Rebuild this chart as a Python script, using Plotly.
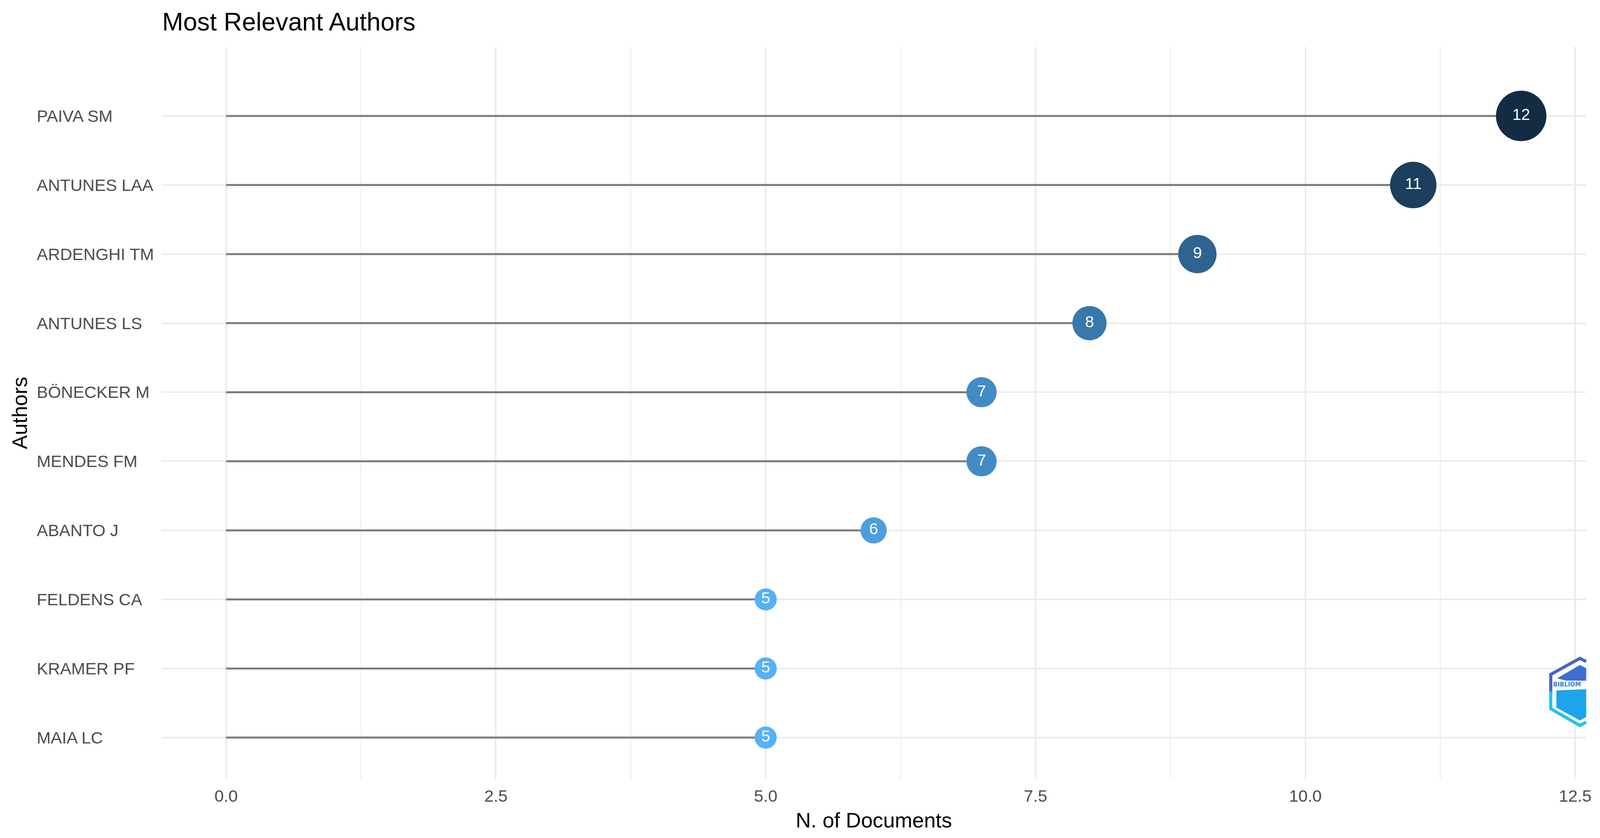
import plotly.graph_objects as go

authors = ["PAIVA SM", "ANTUNES LAA", "ARDENGHI TM", "ANTUNES LS", "BÖNECKER M",
           "MENDES FM", "ABANTO J", "FELDENS CA", "KRAMER PF", "MAIA LC"]
documents = [12, 11, 9, 8, 7, 7, 6, 5, 5, 5]
x_ticks = [0, 2.5, 5, 7.5, 10, 12.5]

# the browser viewport is 4096 px wide, the reference 4291 px: x positions are
# measured on the reference and rescaled horizontally
REF_W = 4291
W, H = 4096, 2146
SX = W / REF_W
FS = SX ** 0.5  # font / marker scale (compromise between both directions)
L = round(433 * SX)
R = W - round(4253 * SX)
T, B = 120, 151
PW, PH = W - L - R, H - T - B
FONT = "Liberation Sans, Arial, Helvetica, sans-serif"


def px_x(px):
    # reference x pixel -> paper coordinate
    return (px * SX - L) / PW


def px_y(py):
    return (H - B - py) / PH


def dot_size(v):
    # diameter scale (px), linear in the count
    return (58 + (v - min(documents)) * 10.6) * FS


def path(points, close=False):
    s = "M " + " L ".join(f"{px_x(a):.5f},{px_y(b):.5f}" for a, b in points)
    return s + (" Z" if close else "")


seg_x, seg_y = [], []
for a, d in zip(authors, documents):
    seg_x += [0, d, None]
    seg_y += [a, a, None]

fig = go.Figure()
fig.add_trace(go.Scatter(
    x=seg_x, y=seg_y, mode="lines",
    line=dict(color="#7a7a7a", width=5),
    hoverinfo="skip", showlegend=False,
))
fig.add_trace(go.Scatter(
    x=documents, y=authors, mode="markers+text",
    text=[str(d) for d in documents],
    textposition="middle center",
    textfont=dict(family=FONT, size=42 * FS, color="white"),
    marker=dict(
        size=[dot_size(d) for d in documents],
        color=documents,
        colorscale=[[0, "#56B1F7"], [1, "#132B43"]],
        cmin=min(documents), cmax=max(documents),
        line=dict(width=0), opacity=1,
    ),
    showlegend=False,
))

annotations = []
for a in authors:
    annotations.append(dict(
        x=px_x(96), xref="paper", y=a, yref="y",
        text=a, showarrow=False, xanchor="left", yanchor="middle",
        font=dict(family=FONT, size=44 * FS, color="#4D4D4D"),
    ))
annotations.append(dict(
    x=px_x(52), xref="paper", y=0.5, yref="paper", text="Authors",
    textangle=-90, showarrow=False, xanchor="center", yanchor="middle",
    font=dict(family=FONT, size=55 * FS, color="black"),
))
annotations.append(dict(
    x=0.5, xref="paper", y=px_y(2100), yref="paper", text="N. of Documents",
    showarrow=False, xanchor="center", yanchor="middle",
    font=dict(family=FONT, size=55 * FS, color="black"),
))
annotations.append(dict(
    x=px_x(4163), xref="paper", y=px_y(1753), yref="paper", text="<b>BIBLIOM</b>",
    showarrow=False, xanchor="left", yanchor="middle",
    font=dict(family="DejaVu Sans, sans-serif", size=15, color="#2f7fd6"),
))

# bibliometrix logo (clipped at the panel edge)
hexagon = [(4254, 1690), (4237, 1682), (4155, 1725), (4155, 1817), (4237, 1862), (4254, 1853)]
shapes = [
    dict(type="path", xref="paper", yref="paper", path=path(hexagon, True),
         fillcolor="white", line=dict(width=0), layer="above"),
    dict(type="path", xref="paper", yref="paper",
         path=path([(4254, 1694), (4237, 1686), (4159, 1727), (4159, 1771)]),
         line=dict(color="#4a63c6", width=8), layer="above"),
    dict(type="path", xref="paper", yref="paper",
         path=path([(4159, 1771), (4159, 1815), (4237, 1858), (4254, 1849)]),
         line=dict(color="#1fc3f2", width=8), layer="above"),
    dict(type="path", xref="paper", yref="paper",
         path=path([(4176, 1737), (4237, 1703), (4254, 1711), (4254, 1743), (4200, 1743)], True),
         fillcolor="#3b6fd0", line=dict(width=0), layer="above"),
    dict(type="path", xref="paper", yref="paper",
         path=path([(4174, 1768), (4254, 1765), (4254, 1836), (4237, 1845), (4174, 1812)], True),
         fillcolor="#1ea4ea", line=dict(width=0), layer="above"),
]

fig.update_layout(
    width=W, height=H,
    margin=dict(l=L, r=R, t=T, b=B, pad=0),
    paper_bgcolor="white", plot_bgcolor="white",
    title=dict(text="Most Relevant Authors", x=435 * SX / W,
               xanchor="left", y=1 - 55.5 / H, yanchor="middle",
               xref="container", yref="container",
               font=dict(family=FONT, size=66 * FS, color="black")),
    annotations=annotations,
    shapes=shapes,
    showlegend=False,
)
fig.update_xaxes(
    range=[-0.6, 12.6], tickvals=x_ticks, tickformat=".1f",
    showgrid=True, gridcolor="#EBEBEB", gridwidth=3.5,
    minor=dict(showgrid=True, dtick=1.25, gridcolor="#EBEBEB", gridwidth=1.8),
    zeroline=False, showline=False, ticks="", ticklabelstandoff=14,
    tickfont=dict(family=FONT, size=44 * FS, color="#4D4D4D"),
)
fig.update_yaxes(
    type="category", categoryorder="array", categoryarray=authors[::-1],
    range=[-0.6, 10.0], showgrid=True, gridcolor="#EBEBEB", gridwidth=3.5,
    showticklabels=False, zeroline=False, showline=False, ticks="",
)

fig.write_html("out.html", config={"displayModeBar": False},
               post_script="document.body.style.margin = '0';")
